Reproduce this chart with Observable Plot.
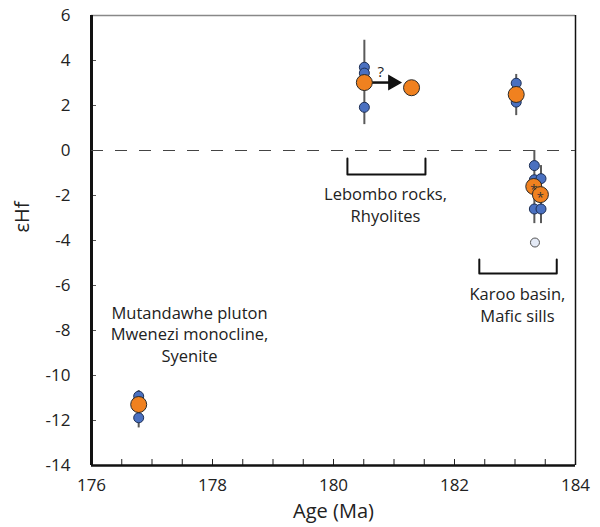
<!DOCTYPE html>
<html>
<head>
<meta charset="utf-8">
<script src="https://cdn.jsdelivr.net/npm/d3@7"></script>
<script src="https://cdn.jsdelivr.net/npm/@observablehq/plot@0.6"></script>
<style>
  html, body { margin: 0; padding: 0; background: #fff; }
  #chart svg { display: block; }
</style>
</head>
<body>
<div id="chart"></div>
<script>
// ---- Data ----
const yTicks = [-14, -12, -10, -8, -6, -4, -2, 0, 2, 4, 6];
const xTicks = [176, 178, 180, 182, 184];

// error bars (vertical ranges)
const barAge = [176.78, 180.51, 183.02, 183.32, 183.43];
const barLo  = [-12.33, 1.15, 1.55, -3.25, -3.25];
const barHi  = [-10.67, 4.90, 3.38, 0.0, -0.67];

// individual analyses (blue)
const blueAge = [176.78, 176.78, 180.51, 180.51, 180.51, 183.02, 183.02, 183.32, 183.32, 183.43, 183.32, 183.43];
const blueEps = [-10.92, -11.88, 3.70, 3.44, 1.92, 2.99, 2.15, -0.67, -1.30, -1.25, -2.60, -2.60];

// outlier (open)
const openAge = [183.33];
const openEps = [-4.09];

// averages (orange)
const meanAge = [176.78, 180.51, 181.29, 183.02, 183.31, 183.42];
const meanEps = [-11.29, 3.02, 2.79, 2.49, -1.60, -1.96];
const meanStar = [false, false, false, false, true, true];

// annotations
const noteText = ["Mutandawhe pluton\nMwenezi monocline,\nSyenite", "Lebombo rocks,\nRhyolites", "Karoo basin,\nMafic sills"];
const noteAge  = [177.62, 180.86, 183.04];
const noteEps  = [-8.13, -2.38, -6.84];

// brackets
const bracket1Age = [180.23, 180.23, 181.52, 181.52];
const bracket1Eps = [-0.36, -1.07, -1.07, -0.36];
const bracket2Age = [182.41, 182.41, 183.69, 183.69];
const bracket2Eps = [-4.84, -5.47, -5.47, -4.84];

// arrow (age shift)
const arrowFrom = [180.62, 3.02];
const arrowTo   = [180.98, 3.02];

const blue = blueAge.map((a, i) => ({age: a, eps: blueEps[i]}));
const open = openAge.map((a, i) => ({age: a, eps: openEps[i]}));
const means = meanAge.map((a, i) => ({age: a, eps: meanEps[i], star: meanStar[i]}));
const bars = barAge.map((a, i) => ({age: a, lo: barLo[i], hi: barHi[i]}));
const notes = noteText.map((t, i) => ({text: t, age: noteAge[i], eps: noteEps[i]}));
const b1 = bracket1Age.map((a, i) => ({age: a, eps: bracket1Eps[i]}));
const b2 = bracket2Age.map((a, i) => ({age: a, eps: bracket2Eps[i]}));

const font = "'Open Sans', 'Noto Sans', sans-serif";

const chart = Plot.plot({
  width: 600,
  height: 527,
  marginLeft: 91,
  marginRight: 25,
  marginTop: 15,
  marginBottom: 62,
  style: {fontFamily: font, background: "#fff", overflow: "visible"},
  x: {domain: [176, 184]},
  y: {domain: [-14, 6]},
  marks: [
    // inward ticks
    Plot.axisY({ticks: yTicks, tickSize: 5, dx: 5, tickFormat: () => "", stroke: "#555", label: null}),
    Plot.axisX({ticks: d3.range(176, 184.01, 0.5), tickSize: 6, dy: -6, tickFormat: () => "", stroke: "#222", label: null}),
    // tick labels
    Plot.axisY({ticks: yTicks, tickSize: 0, tickPadding: 21, fontSize: 17, fill: "#222", label: null, tickFormat: d => String(d)}),
    Plot.axisX({ticks: xTicks, tickSize: 0, tickPadding: 13, fontSize: 17, fill: "#222", label: null, tickFormat: d => String(d)}),
    // axis titles
    Plot.text(["Age (Ma)"], {frameAnchor: "bottom", dy: 52, fontSize: 20, fill: "#222"}),
    Plot.text(["εHf"], {frameAnchor: "left", dx: -69, dy: -8, rotate: -90, fontSize: 20, fill: "#222"}),
    // frame
    Plot.ruleY([6], {stroke: "#888", strokeWidth: 1.5}),
    Plot.ruleX([184], {stroke: "#111", strokeWidth: 1.5}),
    Plot.ruleX([176], {stroke: "#111", strokeWidth: 3}),
    Plot.ruleY([-14], {stroke: "#111", strokeWidth: 2.5}),
    // zero line
    Plot.ruleY([0], {stroke: "#444", strokeWidth: 1.2, strokeDasharray: "12,12"}),
    // brackets
    Plot.line(b1, {x: "age", y: "eps", stroke: "#111", strokeWidth: 2}),
    Plot.line(b2, {x: "age", y: "eps", stroke: "#111", strokeWidth: 2}),
    // annotations
    Plot.text(notes, {x: "age", y: "eps", text: "text", fontSize: 16.5, lineHeight: 1.33, fill: "#222"}),
    // error bars
    Plot.ruleX(bars, {x: "age", y1: "lo", y2: "hi", stroke: "#5a5a5a", strokeWidth: 2}),
    // arrow
    Plot.link([{x1: arrowFrom[0], y1: arrowFrom[1], x2: arrowTo[0], y2: arrowTo[1]}], {x1: "x1", y1: "y1", x2: "x2", y2: "y2", stroke: "#111", strokeWidth: 2.5}),
    Plot.dot([{x: arrowTo[0], y: arrowTo[1]}], {x: "x", y: "y", symbol: "triangle", rotate: 90, r: 5, fill: "#111", stroke: "#111"}),
    Plot.text(["?"], {x: [180.78], y: [3.5], fontSize: 15, fill: "#222"}),
    // points
    Plot.dot(blue, {x: "age", y: "eps", r: 5, fill: "#4a70c0", stroke: "#1d2f55", strokeWidth: 1}),
    Plot.dot(open, {x: "age", y: "eps", r: 4.5, fill: "#e4eaf6", stroke: "#555", strokeWidth: 1}),
    Plot.dot(means, {x: "age", y: "eps", r: 8, fill: "#f0811f", stroke: "#2a2a2a", strokeWidth: 1}),
    Plot.text(means.filter(d => d.star), {x: "age", y: "eps", text: () => "*", fontSize: 13, dy: 3, fill: "#333"})
  ]
});

document.getElementById("chart").appendChild(chart);
</script>
</body>
</html>
